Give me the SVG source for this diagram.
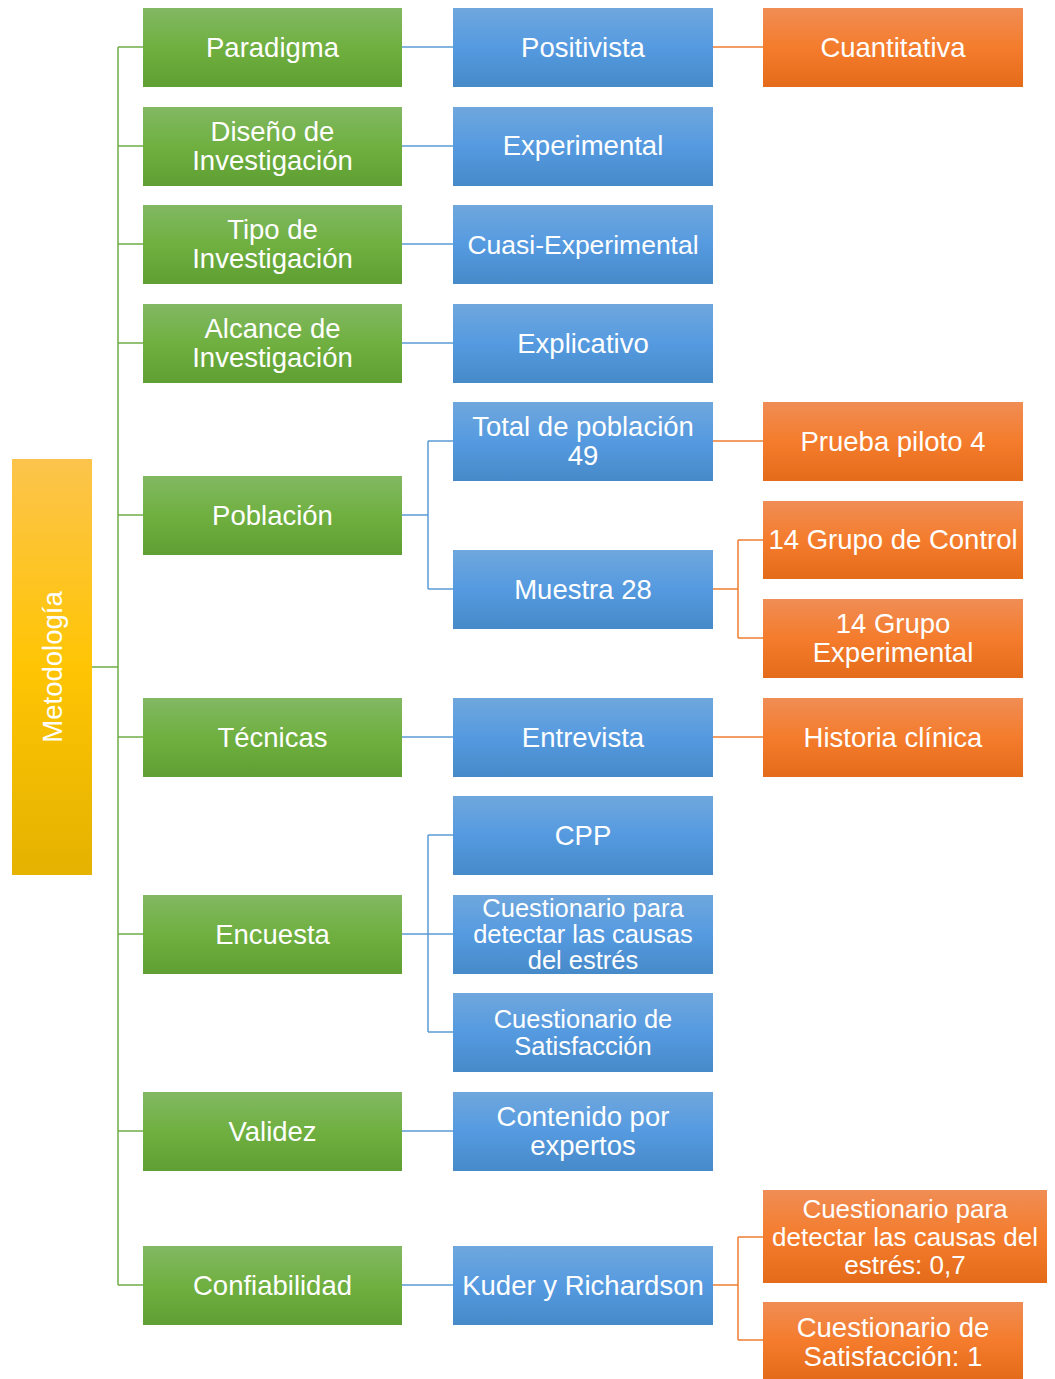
<svg xmlns="http://www.w3.org/2000/svg" width="1055" height="1379" viewBox="0 0 1055 1379">
<defs>
<linearGradient id="gG" x1="0" y1="0" x2="0" y2="1"><stop offset="0" stop-color="#82b863"/><stop offset="0.5" stop-color="#6fb040"/><stop offset="1" stop-color="#5f9f33"/></linearGradient>
<linearGradient id="gB" x1="0" y1="0" x2="0" y2="1"><stop offset="0" stop-color="#6fa7dd"/><stop offset="0.5" stop-color="#559ae0"/><stop offset="1" stop-color="#478ac9"/></linearGradient>
<linearGradient id="gO" x1="0" y1="0" x2="0" y2="1"><stop offset="0" stop-color="#f08d55"/><stop offset="0.5" stop-color="#f47c2c"/><stop offset="1" stop-color="#e36b1a"/></linearGradient>
<linearGradient id="gY" x1="0" y1="0" x2="0" y2="1"><stop offset="0" stop-color="#fcc44c"/><stop offset="0.5" stop-color="#ffc504"/><stop offset="1" stop-color="#e4b200"/></linearGradient>
</defs>
<style>
text{font-family:"Liberation Sans",Arial,sans-serif;fill:#fff;text-anchor:middle;font-size:27.5px}
.g{fill:url(#gG)}.b{fill:url(#gB)}.o{fill:url(#gO)}.y{fill:url(#gY)}
.cg{stroke:#70ad47;stroke-width:1.5;fill:none}
.cb{stroke:#5b9bd5;stroke-width:1.5;fill:none}
.co{stroke:#ed7d31;stroke-width:1.5;fill:none}
</style>
<g id="connectors">
<path class="cg" d="M92 667H118M118 47V1285M118 47H143M118 146H143M118 244H143M118 343H143M118 515H143M118 737H143M118 934H143M118 1131H143M118 1285H143"/>
<path class="cb" d="M402 47H453M402 146H453M402 244H453M402 343H453M402 515H428M428 441V589M428 441H453M428 589H453M402 737H453M402 934H428M428 835V1032M428 835H453M428 934H453M428 1032H453M402 1131H453M402 1285H453"/>
<path class="co" d="M713 47H763M713 441H763M713 589H738M738 540V638M738 540H763M738 638H763M713 737H763M713 1285H738M738 1237V1340M738 1237H763M738 1340H763"/>
</g>
<g id="metodologia"><rect class="y" x="12" y="459" width="80" height="416"/><text transform="translate(52,667) rotate(-90)" y="10">Metodología</text></g>
<g id="paradigma"><rect class="g" x="143" y="8" width="259" height="79"/><text x="272.5" y="57">Paradigma</text></g>
<g id="diseno"><rect class="g" x="143" y="107" width="259" height="79"/><text x="272.5" y="141">Diseño de</text><text x="272.5" y="170">Investigación</text></g>
<g id="tipo"><rect class="g" x="143" y="205" width="259" height="79"/><text x="272.5" y="239">Tipo de</text><text x="272.5" y="268">Investigación</text></g>
<g id="alcance"><rect class="g" x="143" y="304" width="259" height="79"/><text x="272.5" y="338">Alcance de</text><text x="272.5" y="367">Investigación</text></g>
<g id="poblacion"><rect class="g" x="143" y="476" width="259" height="79"/><text x="272.5" y="525">Población</text></g>
<g id="tecnicas"><rect class="g" x="143" y="698" width="259" height="79"/><text x="272.5" y="747">Técnicas</text></g>
<g id="encuesta"><rect class="g" x="143" y="895" width="259" height="79"/><text x="272.5" y="944">Encuesta</text></g>
<g id="validez"><rect class="g" x="143" y="1092" width="259" height="79"/><text x="272.5" y="1141">Validez</text></g>
<g id="confiabilidad"><rect class="g" x="143" y="1246" width="259" height="79"/><text x="272.5" y="1295">Confiabilidad</text></g>
<g id="positivista"><rect class="b" x="453" y="8" width="260" height="79"/><text x="583" y="57">Positivista</text></g>
<g id="experimental"><rect class="b" x="453" y="107" width="260" height="79"/><text x="583" y="155">Experimental</text></g>
<g id="cuasi"><rect class="b" x="453" y="205" width="260" height="79"/><text x="583" y="254" style="font-size:26.5px">Cuasi-Experimental</text></g>
<g id="explicativo"><rect class="b" x="453" y="304" width="260" height="79"/><text x="583" y="353">Explicativo</text></g>
<g id="total"><rect class="b" x="453" y="402" width="260" height="79"/><text x="583" y="436">Total de población</text><text x="583" y="465">49</text></g>
<g id="muestra"><rect class="b" x="453" y="550" width="260" height="79"/><text x="583" y="599">Muestra 28</text></g>
<g id="entrevista"><rect class="b" x="453" y="698" width="260" height="79"/><text x="583" y="747">Entrevista</text></g>
<g id="cpp"><rect class="b" x="453" y="796" width="260" height="79"/><text x="583" y="845">CPP</text></g>
<g id="cuest-causas"><rect class="b" x="453" y="895" width="260" height="79"/><text x="583" y="917" style="font-size:25.5px">Cuestionario para</text><text x="583" y="943" style="font-size:25.5px">detectar las causas</text><text x="583" y="969" style="font-size:25.5px">del estrés</text></g>
<g id="cuest-satisf"><rect class="b" x="453" y="993" width="260" height="79"/><text x="583" y="1028" style="font-size:25.5px">Cuestionario de</text><text x="583" y="1055" style="font-size:25.5px">Satisfacción</text></g>
<g id="contenido"><rect class="b" x="453" y="1092" width="260" height="79"/><text x="583" y="1126">Contenido por</text><text x="583" y="1155">expertos</text></g>
<g id="kuder"><rect class="b" x="453" y="1246" width="260" height="79"/><text x="583" y="1295">Kuder y Richardson</text></g>
<g id="cuantitativa"><rect class="o" x="763" y="8" width="260" height="79"/><text x="893" y="57">Cuantitativa</text></g>
<g id="piloto"><rect class="o" x="763" y="402" width="260" height="79"/><text x="893" y="451">Prueba piloto 4</text></g>
<g id="control"><rect class="o" x="763" y="501" width="260" height="78"/><text x="893" y="549">14 Grupo de Control</text></g>
<g id="grupo-exp"><rect class="o" x="763" y="599" width="260" height="79"/><text x="893" y="633">14 Grupo</text><text x="893" y="662">Experimental</text></g>
<g id="historia"><rect class="o" x="763" y="698" width="260" height="79"/><text x="893" y="747">Historia clínica</text></g>
<g id="conf-causas"><rect class="o" x="763" y="1190" width="284" height="93"/><text x="905" y="1218" style="font-size:26px">Cuestionario para</text><text x="905" y="1246" style="font-size:26px">detectar las causas del</text><text x="905" y="1274" style="font-size:26px">estrés: 0,7</text></g>
<g id="conf-satisf"><rect class="o" x="763" y="1302" width="260" height="77"/><text x="893" y="1337">Cuestionario de</text><text x="893" y="1366">Satisfacción: 1</text></g>
</svg>
